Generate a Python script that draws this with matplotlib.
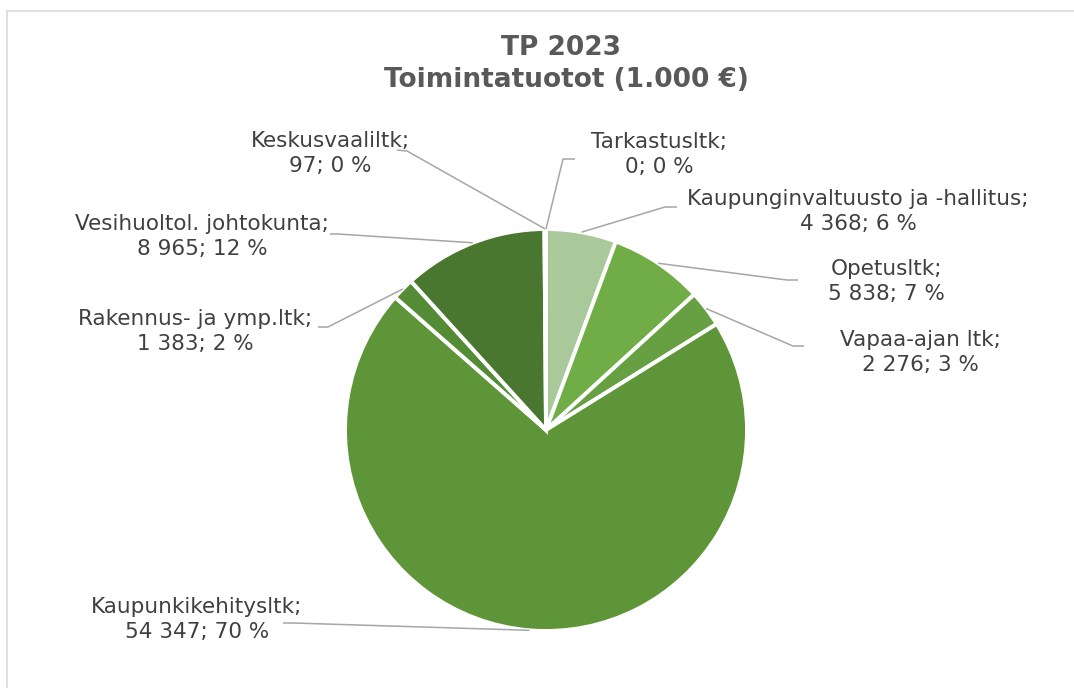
import numpy as np
import matplotlib
matplotlib.use("Agg")
import matplotlib.pyplot as plt

# data
categories = ["Tarkastusltk", "Kaupunginvaltuusto ja -hallitus", "Opetusltk",
              "Vapaa-ajan ltk", "Kaupunkikehitysltk", "Rakennus- ja ymp.ltk",
              "Vesihuoltol. johtokunta", "Keskusvaaliltk"]
values = [0, 4368, 5838, 2276, 54347, 1383, 8965, 97]
percents = [0, 6, 7, 3, 70, 2, 12, 0]  # as printed on the chart
colors = ["#C5E0B4", "#A9C99A", "#70AD47", "#66A043", "#5F9539", "#538C35", "#4A772F", "#3F6A26"]

# layout (image pixel coords, y down): first-line baseline of label, elbow, line end
label_pos = [(659, 148), (858, 205), (886, 275), (920, 346), (197, 613), (195, 325), (202, 230), (330, 147)]
leader_elbow = [(563, 159), (665, 207), (787, 280), (793, 346), (293, 623), (328, 327), (338, 234), (407, 151)]
leader_end = [(575, 159), (677, 207), (798, 280), (804, 346), (283, 623), (318, 327), (330, 234), (397, 150)]

W, H = 1074, 688
cx, cy, R = 546, 430, 201

fig = plt.figure(figsize=(W / 100, H / 100), dpi=100)
ax = fig.add_axes([0, 0, 1, 1])

wedges, _ = ax.pie(values, colors=colors, startangle=90, counterclock=False,
                   center=(cx, H - cy), radius=R,
                   wedgeprops=dict(edgecolor="white", linewidth=2.8))
ax.set_xlim(0, W)
ax.set_ylim(0, H)
ax.set_aspect("equal")
ax.axis("off")

text_color = "#404040"
line_color = "#A6A6A6"
for w, name, v, pct, (lx, ly), (ex, ey), (tx, ty) in zip(wedges, categories, values, percents,
                                                           label_pos, leader_elbow, leader_end):
    mid = np.deg2rad((w.theta1 + w.theta2) / 2)
    sx = cx + R * np.cos(mid)
    sy = (H - cy) + R * np.sin(mid)
    ax.plot([sx, ex, tx], [sy, H - ey, H - ty], color=line_color, lw=1.1,
            solid_capstyle="butt", zorder=1)
    val = f"{v:,}".replace(",", " ")
    ax.text(lx, H - ly, f"{name};", ha="center", va="baseline",
            fontsize=15.5, color=text_color)
    ax.text(lx, H - ly - 25, f"{val}; {pct} %", ha="center", va="baseline",
            fontsize=15.5, color=text_color)

# title
ax.text(561, H - 55, "TP 2023", ha="center", va="baseline",
        fontsize=19, fontweight="bold", color="#595959")
ax.text(566, H - 87, "Toimintatuotot (1.000 €)", ha="center", va="baseline",
        fontsize=19, fontweight="bold", color="#595959")

# chart area border (top and left visible)
ax.plot([7, W], [H - 11, H - 11], color="#D9D9D9", lw=1.2)
ax.plot([7, 7], [H - 11, 0], color="#D9D9D9", lw=1.2)

fig.savefig("out.png", dpi=100)
